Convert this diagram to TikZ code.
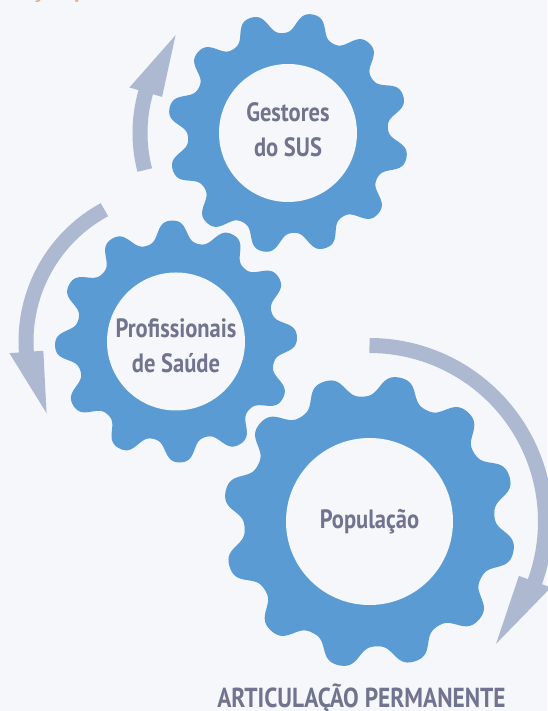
\documentclass[tikz,border=0pt]{standalone}
\usepackage{fontspec}
\newfontfamily\rotulo[FakeStretch=0.85]{PT Sans}
\definecolor{azulEng}{RGB}{90,155,212}
\definecolor{cinzaSeta}{RGB}{172,185,209}
\definecolor{fundo}{RGB}{245,247,251}
\definecolor{textoEng}{RGB}{113,116,142}
\definecolor{bege}{RGB}{216,183,140}

\begin{document}
\begin{tikzpicture}[x=1pt, y=1pt,
  engrenagem/.style={fill=azulEng},
  miolo/.style={circle, fill=fundo, inner sep=0pt},
  seta/.style={draw=cinzaSeta, line width=15pt},
  ponta/.style={fill=cinzaSeta},
  nome/.style={font=\rotulo\bfseries\fontsize{26.5}{35}\selectfont, text=textoEng, align=center}]

%Fundo
\fill[fundo] (0,0) rectangle (547,711);
\useasboundingbox (0,0) rectangle (547,711);
\node[anchor=base west, text=bege, font=\rotulo\bfseries\fontsize{29}{29}\selectfont] (titulo) at (28,714) {ção p};

%Centros
\coordinate (gestores) at (288,578);
\coordinate (profissionais) at (176,369.5);
\coordinate (populacao) at (369.5,189.5);

%Engrenagens
\foreach \c/\rb/\amp/\fase in {gestores/110.5/10.5/18, profissionais/110.5/10.5/2, populacao/136/11/18}
  \fill[engrenagem, shift={(\c)}] plot[domain=0:360, samples=481, variable=\t] (\t:{\rb+\amp*tanh(1.3*cos(12*(\t-\fase)))/0.8617}) -- cycle;

\node[miolo, minimum size=138] (g1) at (gestores) {};
\node[miolo, minimum size=138] (g2) at (profissionais) {};
\node[miolo, minimum size=167] (g3) at (populacao) {};

%Textos
\node[nome, yshift=3] (t1) at (g1) {Gestores\\do SUS};
\node[nome, yshift=-4.5] (t2) at (g2) {Profissionais\\de Saúde};
\node[nome] (t3) at (g3) {População};
\node[nome, anchor=base, font=\rotulo\bfseries\fontsize{27.5}{28}\selectfont] (legenda) at (361.5,3) {ARTICULAÇÃO PERMANENTE};

%Setas
\draw[seta, shift={(gestores)}] (194.5:148) arc[start angle=194.5, end angle=162, radius=148];
\fill[ponta, shift={(gestores)}] (164:131) -- (164:165) -- (139:149) -- cycle;
\draw[seta, shift={(profissionais)}] (118.5:150) arc[start angle=118.5, end angle=186, radius=150];
\fill[ponta, shift={(profissionais)}] (184:133) -- (184:167) -- (209:148) -- cycle;
\draw[seta, shift={(populacao)}] (90:176) arc[start angle=90, end angle=-22, radius=176];
\fill[ponta, shift={(populacao)}] (-20:159) -- (-20:193) -- (-44:176) -- cycle;

\end{tikzpicture}
\end{document}
